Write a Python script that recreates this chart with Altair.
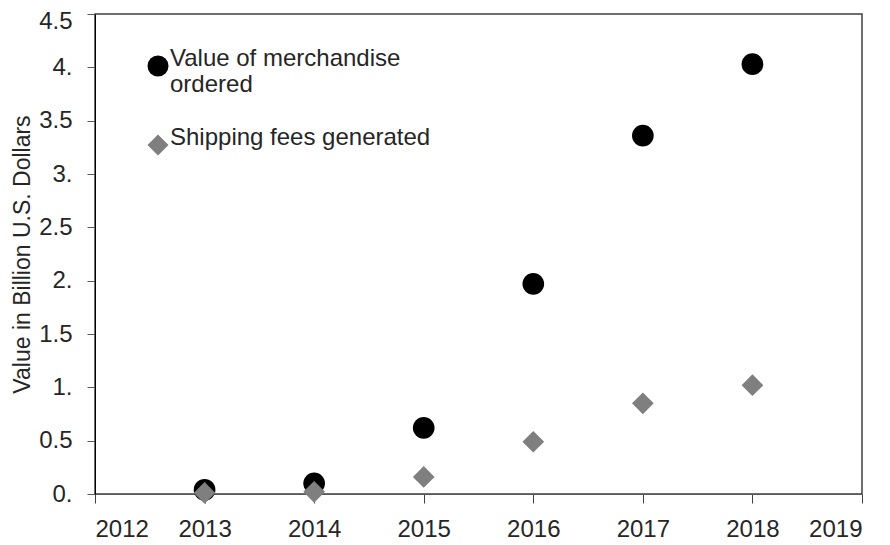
import altair as alt
import pandas as pd

years = [2013, 2014, 2015, 2016, 2017, 2018]
merchandise = [0.04, 0.10, 0.62, 1.97, 3.36, 4.03]
shipping = [0.01, 0.02, 0.16, 0.49, 0.85, 1.02]
series_names = ["Value of merchandise ordered", "Shipping fees generated"]
x_ticks = [2012, 2013, 2014, 2015, 2016, 2017, 2018, 2019]
y_ticks = [0, 0.5, 1, 1.5, 2, 2.5, 3, 3.5, 4, 4.5]

rows = []
for y, v in zip(years, merchandise):
    rows.append({"year": y, "value": v, "series": series_names[0]})
for y, v in zip(years, shipping):
    rows.append({"year": y, "value": v, "series": series_names[1]})
df = pd.DataFrame(rows)

FONT = "Liberation Sans"
TXT = "#262626"

chart = (
    alt.Chart(df)
    .mark_point(filled=True, opacity=1, size=470)
    .encode(
        x=alt.X(
            "year:Q",
            scale=alt.Scale(domain=[2012, 2019], nice=False, zero=False),
            axis=alt.Axis(
                values=x_ticks,
                format="d",
                title=None,
                grid=False,
                domainColor="#595959",
                tickColor="#404040",
                tickSize=9,
                labelPadding=14,
                labelFontSize=24,
                labelFont=FONT,
                labelColor=TXT,
            ),
        ),
        y=alt.Y(
            "value:Q",
            scale=alt.Scale(domain=[0, 4.5], nice=False),
            axis=alt.Axis(
                values=y_ticks,
                labelExpr="datum.value == floor(datum.value) ? format(datum.value, 'd') + '.' : format(datum.value, '.1f')",
                labelBaseline={"condition": {"test": "datum.value >= 4.5", "value": "top"}, "value": "middle"},
                labelOffset={"condition": {"test": "datum.value >= 4.5", "value": -5}, "value": 0},
                title="Value in Billion U.S. Dollars",
                titleFont=FONT,
                titleFontSize=23,
                titleFontWeight="normal",
                titleColor=TXT,
                titlePadding=4,
                grid=False,
                domainColor="#000000",
                tickColor="#595959",
                tickSize=8,
                labelPadding=15,
                labelFontSize=24,
                labelFont=FONT,
                labelColor=TXT,
            ),
        ),
        color=alt.Color(
            "series:N",
            scale=alt.Scale(domain=series_names, range=["#000000", "#7f7f7f"]),
            legend=alt.Legend(
                title=None,
                orient="none",
                legendX=51,
                legendY=40,
                padding=0,
                labelFont=FONT,
                labelFontSize=24,
                labelColor=TXT,
                labelLimit=400,
                labelOffset=0,
                labelBaseline="alphabetic",
                symbolSize=441,
                symbolStrokeWidth=0,
                rowPadding=29,
                labelExpr="datum.label == 'Value of merchandise ordered' ? ['Value of merchandise', 'ordered'] : datum.label",
            ),
        ),
        shape=alt.Shape(
            "series:N",
            scale=alt.Scale(domain=series_names, range=["circle", "diamond"]),
            legend=alt.Legend(title=None),
        ),
    )
    .properties(
        width=767,
        height=480,
        autosize=alt.AutoSizeParams(type="none"),
        padding={"left": 87, "top": 6, "right": 20, "bottom": 50},
    )
    .configure_view(stroke="#404040", strokeWidth=1.5)
)

chart.save("out.html", embed_options={"renderer": "svg", "actions": False})
